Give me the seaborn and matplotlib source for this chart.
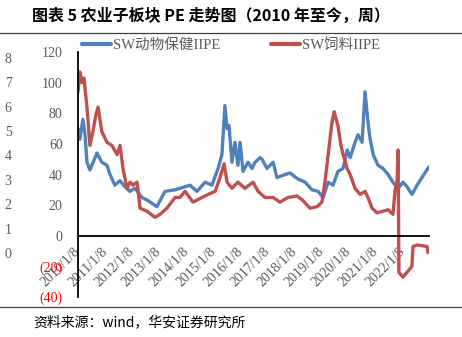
import matplotlib
matplotlib.use('Agg')
import matplotlib.pyplot as plt
import seaborn as sns
import pandas as pd
from matplotlib.lines import Line2D
from matplotlib.font_manager import FontProperties

# ---------------- data ----------------
blue_name = 'SW动物保健IIPE'
red_name = 'SW饲料IIPE'

blue_year = [2010.02, 2010.09, 2010.20, 2010.28, 2010.35, 2010.46, 2010.72, 2010.90,
             2011.09, 2011.20, 2011.38, 2011.57, 2011.75, 2011.94, 2012.12, 2012.38,
             2012.60, 2012.93, 2013.23, 2013.60, 2013.97, 2014.15, 2014.41, 2014.71,
             2014.96, 2015.19, 2015.33, 2015.44, 2015.52, 2015.59, 2015.70, 2015.81,
             2015.92, 2016.00, 2016.11, 2016.29, 2016.44, 2016.55, 2016.74, 2016.81,
             2016.99, 2017.22, 2017.36, 2017.66, 2017.84, 2018.14, 2018.40, 2018.65,
             2018.88, 2019.06, 2019.25, 2019.43, 2019.61, 2019.80, 2019.95, 2020.06,
             2020.24, 2020.35, 2020.50, 2020.61, 2020.72, 2020.79, 2020.91, 2021.09,
             2021.27, 2021.46, 2021.64, 2021.83, 2022.01, 2022.16, 2022.34, 2022.53,
             2022.71, 2022.82, 2022.97]
blue_pe = [70, 63, 76, 66, 48, 43, 54, 48,
           46, 40, 33, 36, 32, 29, 31, 25,
           23, 19, 29, 30, 32, 33, 29, 35,
           33, 44, 53, 85, 70, 72, 48, 61,
           46, 61, 42, 48, 44, 48, 51, 50,
           44, 48, 38, 40, 41, 37, 35, 30,
           29, 25, 35, 33, 42, 44, 56, 51,
           61, 66, 61, 94, 74, 64, 53, 46,
           44, 40, 35, 31, 35, 32, 27, 33,
           38, 41, 45]

red_year = [2010.02, 2010.09, 2010.17, 2010.24, 2010.35, 2010.46, 2010.57, 2010.68,
            2010.76, 2010.90, 2011.09, 2011.27, 2011.46, 2011.57, 2011.68, 2011.83,
            2011.94, 2012.05, 2012.20, 2012.31, 2012.57, 2012.86, 2013.05, 2013.30,
            2013.60, 2013.78, 2013.97, 2014.26, 2014.60, 2014.82, 2015.08, 2015.26,
            2015.41, 2015.52, 2015.70, 2015.92, 2016.18, 2016.48, 2016.66, 2016.92,
            2017.22, 2017.47, 2017.77, 2018.10, 2018.32, 2018.58, 2018.84, 2019.02,
            2019.13, 2019.25, 2019.39, 2019.47, 2019.58, 2019.61, 2019.72, 2019.80,
            2019.95, 2020.06, 2020.24, 2020.43, 2020.61, 2020.72, 2020.87, 2021.05,
            2021.27, 2021.46, 2021.64, 2021.72, 2021.79, 2021.83, 2021.86, 2022.01,
            2022.20, 2022.34, 2022.38, 2022.53, 2022.71, 2022.90, 2022.93, 2022.97]
red_pe = [94, 107, 100, 103, 84, 59, 68, 79,
          84, 68, 61, 59, 53, 59, 44, 31,
          35, 33, 35, 18, 16, 12, 14, 18,
          25, 25, 29, 22, 25, 27, 29, 38,
          47, 35, 31, 35, 31, 35, 29, 25,
          25, 22, 25, 26, 23, 18, 19, 22,
          35, 53, 74, 81, 74, 72, 59, 53,
          44, 40, 31, 27, 29, 25, 18, 15,
          16, 17, 14, 30, 35, 56, -24, -27,
          -23, -20, -7, -6, -6.5, -7, -11, -10]

x_tick_years = [2010, 2011, 2012, 2013, 2014, 2015, 2016, 2017, 2018, 2019, 2020, 2021, 2022]
x_tick_labels = ['2010/1/8', '2011/1/8', '2012/1/8', '2013/1/8', '2014/1/8', '2015/1/8',
                 '2016/1/8', '2017/1/8', '2018/1/8', '2019/1/8', '2020/1/8', '2021/1/8',
                 '2022/1/8']
y_ticks = [-40, -20, 0, 20, 40, 60, 80, 100, 120]
y_tick_labels = ['(40)', '(20)', '0', '20', '40', '60', '80', '100', '120']
outer_ticks = [0, 1, 2, 3, 4, 5, 6, 7, 8]
outer_labels = ['0', '1', '2', '3', '4', '5', '6', '7', '8']

title = '图表 5 农业子板块 PE 走势图（2010 年至今，周）'
source = '资料来源：wind，华安证券研究所'

# ---------------- style ----------------
sns.set_style('white')
plt.rcParams['font.family'] = ['Liberation Serif', 'Noto Sans CJK SC']
plt.rcParams['axes.unicode_minus'] = False

BLUE = '#4F81BD'
RED = '#C0504D'
GREY = '#595959'
W, H = 462, 337

fig = plt.figure(figsize=(W / 100, H / 100), dpi=100)
fig.patch.set_facecolor('white')

ax = fig.add_axes([78 / W, 1 - 297 / H, 351 / W, 245 / H])
ax.patch.set_visible(False)

df_b = pd.DataFrame({'year': blue_year, 'pe': blue_pe})
df_r = pd.DataFrame({'year': red_year, 'pe': red_pe})
sns.lineplot(data=df_b, x='year', y='pe', ax=ax, color=BLUE, lw=2.4, legend=False)
sns.lineplot(data=df_r, x='year', y='pe', ax=ax, color=RED, lw=2.4, legend=False)

ax.set_xlim(2010.02, 2022.97)
ax.set_ylim(-40, 120)
ax.set_xlabel('')
ax.set_ylabel('')
for s in ['top', 'right']:
    ax.spines[s].set_visible(False)
ax.spines['left'].set_color('black')
ax.spines['left'].set_linewidth(1.3)
ax.spines['bottom'].set_color('black')
ax.spines['bottom'].set_linewidth(1.3)
ax.spines['bottom'].set_position(('data', 0))

ax.set_yticks(y_ticks)
ax.set_yticklabels(y_tick_labels)
ax.tick_params(axis='y', length=0, pad=11, labelsize=10, labelcolor=GREY)
for lab in ax.get_yticklabels():
    lab.set_family('Liberation Serif')
    if lab.get_text().startswith('('):
        lab.set_color('red')

ax.set_xticks([y + 0.02 for y in x_tick_years])
ax.set_xticklabels(x_tick_labels, rotation=45, ha='right', va='center',
                   rotation_mode='anchor')
ax.tick_params(axis='x', direction='out', length=4, width=1.1, color='black',
               labelsize=10, labelcolor=GREY, pad=6)
for lab in ax.get_xticklabels():
    lab.set_family('Liberation Serif')

# outer (secondary) scale on the far left
ax2 = fig.add_axes([13 / W, 1 - 297 / H, 0.001, 245 / H])
ax2.patch.set_visible(False)
for s in ax2.spines.values():
    s.set_visible(False)
ax2.set_ylim(-1.80, 8.24)
ax2.set_yticks(outer_ticks)
ax2.set_yticklabels(outer_labels)
ax2.set_xticks([])
ax2.tick_params(axis='y', length=0, pad=1, labelsize=10, labelcolor=GREY)
for lab in ax2.get_yticklabels():
    lab.set_family('Liberation Serif')

# legends
lp = FontProperties(family=['Liberation Serif', 'Noto Sans CJK SC'], size=10.5)
leg1 = fig.legend([Line2D([], [], color=BLUE, lw=3)], [blue_name], loc='center left',
                  bbox_to_anchor=(82 / W, 1 - 45 / H), frameon=False, handlelength=2.0,
                  handletextpad=0.15, borderaxespad=0, borderpad=0, prop=lp,
                  labelcolor=GREY)
leg2 = fig.legend([Line2D([], [], color=RED, lw=3)], [red_name], loc='center left',
                  bbox_to_anchor=(271 / W, 1 - 45 / H), frameon=False, handlelength=2.0,
                  handletextpad=0.15, borderaxespad=0, borderpad=0, prop=lp,
                  labelcolor=GREY)

# title, rules and source
fig.text(32 / W, 1 - 16 / H, title, fontsize=11.5, fontweight='bold', va='center',
         ha='left', family=['Noto Sans CJK SC', 'DejaVu Sans'], color='black')
fig.add_artist(Line2D([0, 1], [1 - 33 / H] * 2, color='#404040', lw=0.9,
                      transform=fig.transFigure))
fig.add_artist(Line2D([0, 1], [1 - 307 / H] * 2, color='#404040', lw=0.9,
                      transform=fig.transFigure))
fig.text(33 / W, 1 - 322 / H, source, fontsize=10, va='center', ha='left',
         family=['Noto Sans CJK SC', 'DejaVu Sans'], color='black')

fig.savefig('out.png', dpi=100, facecolor='white')
